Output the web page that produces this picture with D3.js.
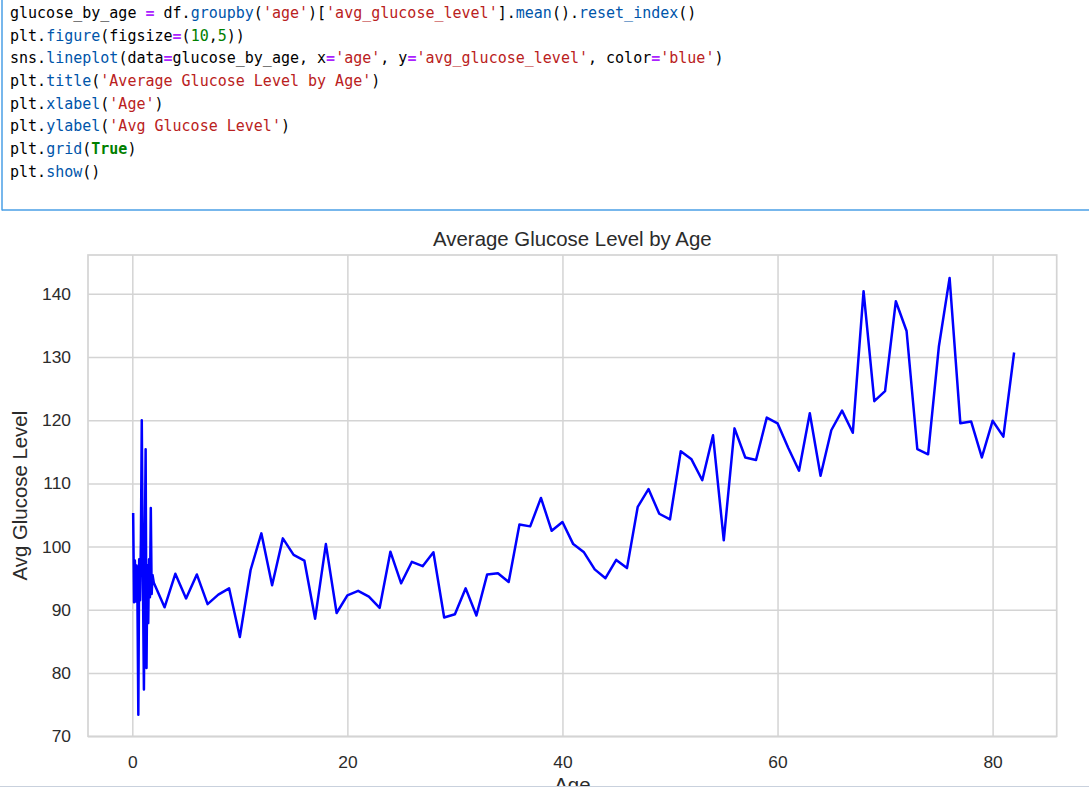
<!DOCTYPE html>
<html>
<head>
<meta charset="utf-8">
<script src="https://cdn.jsdelivr.net/npm/d3@7/dist/d3.min.js"></script>
<style>
  html, body { margin: 0; padding: 0; background: #ffffff; }
  svg { display: block; }
</style>
</head>
<body>
<svg id="chart" width="1089" height="789"></svg>
<script>
// ---------- data ----------
const ages = [0.08, 0.16, 0.24, 0.32, 0.40, 0.48, 0.56, 0.64, 0.72, 0.80, 0.88,
  1.00, 1.08, 1.16, 1.24, 1.32, 1.40, 1.48, 1.56, 1.64, 1.72, 1.80, 1.88,
  2, 3, 4, 5, 6, 7, 8, 9, 10, 11, 12, 13, 14, 15, 16, 17, 18, 19, 20,
  21, 22, 23, 24, 25, 26, 27, 28, 29, 30, 31, 32, 33, 34, 35, 36, 37, 38, 39, 40,
  41, 42, 43, 44, 45, 46, 47, 48, 49, 50, 51, 52, 53, 54, 55, 56, 57, 58, 59, 60,
  61, 62, 63, 64, 65, 66, 67, 68, 69, 70, 71, 72, 73, 74, 75, 76, 77, 78, 79, 80,
  81, 82];
const avgGlucose = [105.3, 91.2, 97.8, 91.3, 97.0, 91.0, 73.4, 98.0, 91.5, 101.0, 120.0,
  92.0, 77.4, 99.0, 115.4, 80.8, 97.0, 87.9, 98.0, 92.0, 106.1, 92.5, 95.5,
  94.3, 90.4, 95.7, 91.8, 95.6, 90.9, 92.4, 93.4, 85.7, 96.3, 102.1, 93.9, 101.3, 98.7, 97.8, 88.6, 100.4, 89.5, 92.3,
  93.0, 92.1, 90.3, 99.2, 94.2, 97.6, 96.9, 99.1, 88.8, 89.3, 93.4, 89.1, 95.6, 95.8, 94.4, 103.5, 103.2, 107.7, 102.5, 103.9,
  100.4, 99.1, 96.4, 95.0, 97.9, 96.6, 106.3, 109.1, 105.2, 104.3, 115.1, 113.8, 110.5, 117.6, 101.0, 118.7, 114.1, 113.7, 120.4, 119.5,
  115.6, 112.0, 121.1, 111.2, 118.4, 121.5, 118.0, 140.4, 123.0, 124.6, 138.8, 134.1, 115.4, 114.6, 131.6, 142.5, 119.5, 119.8, 114.1, 119.9,
  117.4, 130.7];
const xTicks = [0, 20, 40, 60, 80];
const yTicks = [70, 80, 90, 100, 110, 120, 130, 140];
const titleText = "Average Glucose Level by Age";
const xLabelText = "Age";
const yLabelText = "Avg Glucose Level";

// code cell content: [text, token type]
const codeLines = [
  [["glucose_by_age ", "v"], ["=", "op"], [" df.", "v"], ["groupby", "p"], ["(", "v"], ["'age'", "s"], [")[", "v"], ["'avg_glucose_level'", "s"], ["].", "v"], ["mean", "p"], ["().", "v"], ["reset_index", "p"], ["()", "v"]],
  [["plt.", "v"], ["figure", "p"], ["(figsize", "v"], ["=", "op"], ["(", "v"], ["10", "n"], [",", "v"], ["5", "n"], ["))", "v"]],
  [["sns.", "v"], ["lineplot", "p"], ["(data", "v"], ["=", "op"], ["glucose_by_age, x", "v"], ["=", "op"], ["'age'", "s"], [", y", "v"], ["=", "op"], ["'avg_glucose_level'", "s"], [", color", "v"], ["=", "op"], ["'blue'", "s"], [")", "v"]],
  [["plt.", "v"], ["title", "p"], ["(", "v"], ["'Average Glucose Level by Age'", "s"], [")", "v"]],
  [["plt.", "v"], ["xlabel", "p"], ["(", "v"], ["'Age'", "s"], [")", "v"]],
  [["plt.", "v"], ["ylabel", "p"], ["(", "v"], ["'Avg Glucose Level'", "s"], [")", "v"]],
  [["plt.", "v"], ["grid", "p"], ["(", "v"], ["True", "k"], [")", "v"]],
  [["plt.", "v"], ["show", "p"], ["()", "v"]]
];

// ---------- drawing ----------
const svg = d3.select("#chart");
svg.append("rect").attr("width", 1089).attr("height", 789).attr("fill", "#ffffff");

// code cell
const tokenColor = { v: "#000000", op: "#aa22ff", p: "#0055aa", s: "#ba2121", n: "#008000", k: "#008000" };
const tokenWeight = { v: "normal", op: "bold", p: "normal", s: "normal", n: "normal", k: "bold" };
const codeG = svg.append("g");
codeLines.forEach((line, i) => {
  const t = codeG.append("text")
    .attr("x", 10)
    .attr("y", 18 + i * 22.65)
    .attr("font-family", "'DejaVu Sans Mono', 'Liberation Mono', monospace")
    .attr("font-size", 15)
    .attr("xml:space", "preserve")
    .style("white-space", "pre");
  line.forEach(([txt, type]) => {
    t.append("tspan")
      .attr("fill", tokenColor[type])
      .attr("font-weight", tokenWeight[type])
      .text(txt);
  });
});
codeG.append("line").attr("x1", 2).attr("x2", 2).attr("y1", 0).attr("y2", 210.5)
  .attr("stroke", "#4a9fe6").attr("stroke-width", 1.5);
codeG.append("line").attr("x1", 2).attr("x2", 1089).attr("y1", 210).attr("y2", 210)
  .attr("stroke", "#4a9fe6").attr("stroke-width", 1.5);

// chart
const L = 88, R = 1056.7, T = 255, B = 736.3;
const x = d3.scaleLinear().domain([-4.12, 85.96]).range([L, R]);
const y = d3.scaleLinear().domain([70, 146.12]).range([B, T]);
const gridColor = "#d4d4d4";
const textColor = "#2b2b2b";

const g = svg.append("g");

// grid via axes
const xAxis = g.append("g").attr("transform", `translate(0,${B})`)
  .call(d3.axisBottom(x).tickValues(xTicks).tickSize(-(B - T)).tickPadding(19).tickFormat(d3.format("d")));
const yAxis = g.append("g").attr("transform", `translate(${L},0)`)
  .call(d3.axisLeft(y).tickValues(yTicks).tickSize(-(R - L)).tickPadding(17).tickFormat(d3.format("d")));
[xAxis, yAxis].forEach(a => {
  a.select(".domain").remove();
  a.selectAll(".tick line").attr("stroke", gridColor).attr("stroke-width", 1.5);
  a.selectAll(".tick text")
    .attr("fill", textColor)
    .attr("font-family", "'Liberation Sans', Arial, sans-serif")
    .attr("font-size", 17.4);
});

// frame (spines)
g.append("rect").attr("x", L).attr("y", T).attr("width", R - L).attr("height", B - T)
  .attr("fill", "none").attr("stroke", gridColor).attr("stroke-width", 1.7);

// data line
const line = d3.line().x((d, i) => x(ages[i])).y(d => y(d));
g.append("path").datum(avgGlucose)
  .attr("d", line)
  .attr("fill", "none")
  .attr("stroke", "#0000ff")
  .attr("stroke-width", 2.5)
  .attr("stroke-linejoin", "round")
  .attr("stroke-linecap", "butt");

// title & labels
g.append("text").attr("x", (L + R) / 2).attr("y", 246)
  .attr("text-anchor", "middle").attr("fill", textColor)
  .attr("font-family", "'Liberation Sans', Arial, sans-serif").attr("font-size", 20.4)
  .text(titleText);
g.append("text").attr("transform", `translate(27,${(T + B) / 2}) rotate(-90)`)
  .attr("text-anchor", "middle").attr("fill", textColor)
  .attr("font-family", "'Liberation Sans', Arial, sans-serif").attr("font-size", 20.4)
  .text(yLabelText);
g.append("text").attr("x", (L + R) / 2).attr("y", 792)
  .attr("text-anchor", "middle").attr("fill", textColor)
  .attr("font-family", "'Liberation Sans', Arial, sans-serif").attr("font-size", 20.4)
  .text(xLabelText);

// bottom edge of the output area
svg.append("rect").attr("x", 0).attr("y", 787).attr("width", 1089).attr("height", 2).attr("fill", "#ffffff");
svg.append("line").attr("x1", 0).attr("x2", 1089).attr("y1", 786.5).attr("y2", 786.5)
  .attr("stroke", "#c9d1dd").attr("stroke-width", 1.2);
</script>
</body>
</html>
